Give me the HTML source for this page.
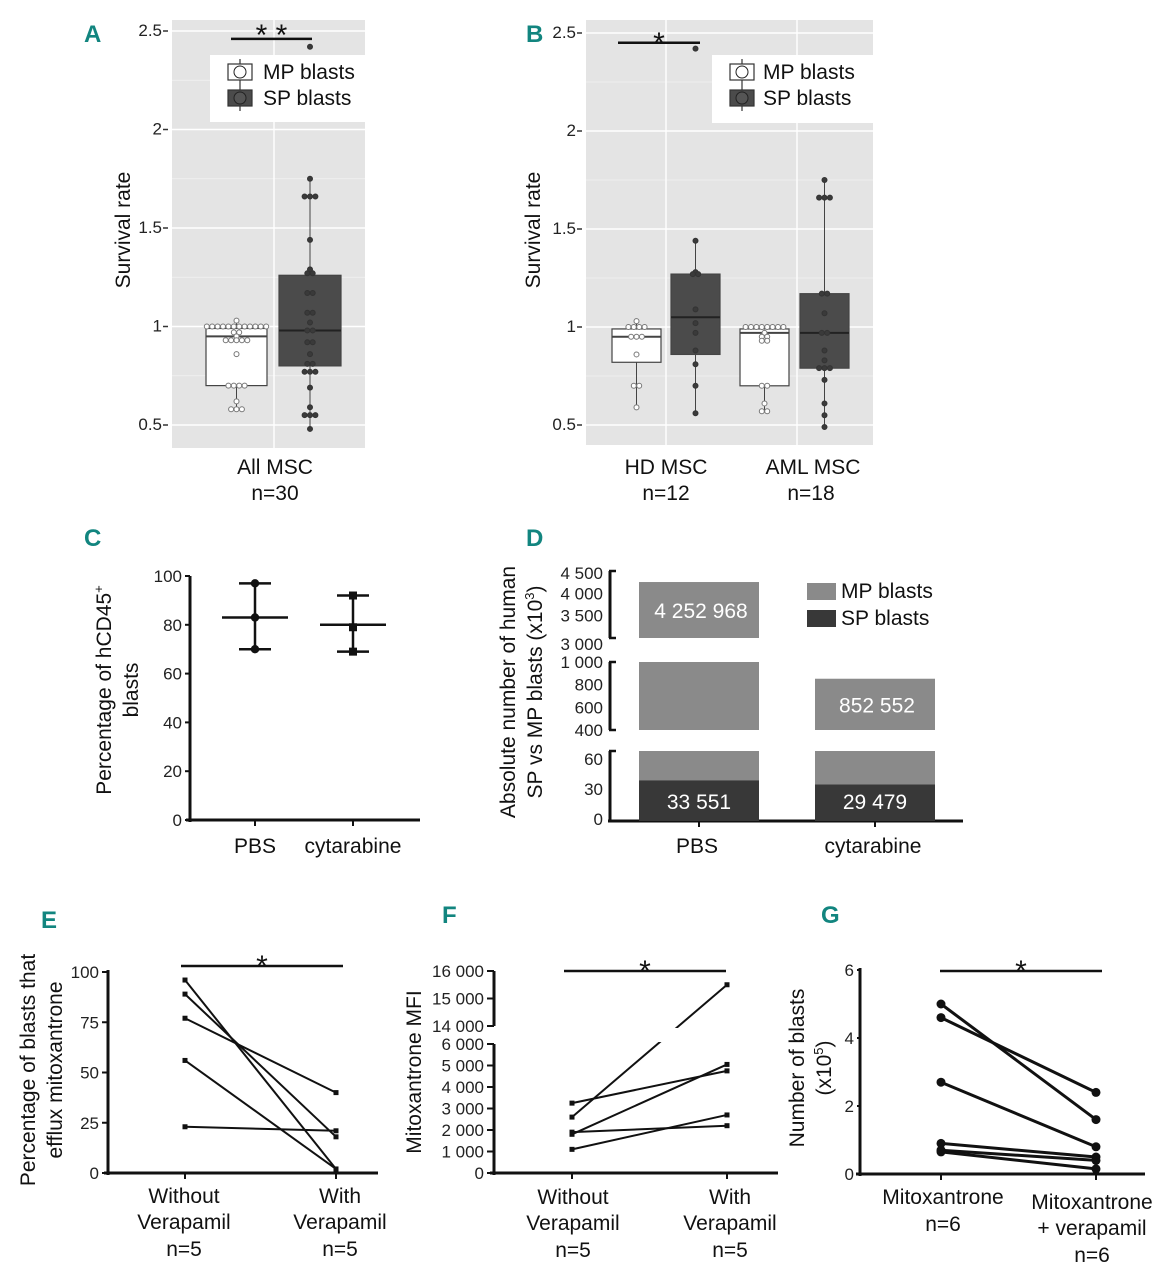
<!DOCTYPE html>
<html><head><meta charset="utf-8"><style>
html,body{margin:0;padding:0;background:#fff;}
svg{display:block;font-family:"Liberation Sans",sans-serif;}
.pl{font-family:"Liberation Sans Narrow","Liberation Sans",sans-serif;font-weight:bold;font-size:24px;fill:#12857f;}
.tk{font-size:17px;fill:#222;}
.lb{font-size:21px;fill:#111;}
</style></head><body>
<svg id="fig" width="1160" height="1280" viewBox="0 0 1160 1280">
<text class="pl" x="84" y="42">A</text>
<text class="pl" x="526" y="42">B</text>
<text class="pl" x="84" y="546">C</text>
<text class="pl" x="526" y="546">D</text>
<text class="pl" x="41" y="928">E</text>
<text class="pl" x="442" y="923">F</text>
<text class="pl" x="821" y="923">G</text>

<text class="lb" transform="translate(130,230) rotate(-90)" text-anchor="middle">Survival rate</text>
<text class="lb" transform="translate(540,230) rotate(-90)" text-anchor="middle">Survival rate</text>
<text class="lb" x="275" y="474" text-anchor="middle">All MSC</text>
<text class="lb" x="275" y="500" text-anchor="middle">n=30</text>
<text class="lb" x="666" y="474" text-anchor="middle">HD MSC</text>
<text class="lb" x="666" y="500" text-anchor="middle">n=12</text>
<text class="lb" x="813" y="474" text-anchor="middle">AML MSC</text>
<text class="lb" x="811" y="500" text-anchor="middle">n=18</text>

<text class="lb" transform="translate(111,690) rotate(-90)" text-anchor="middle">Percentage of hCD45<tspan dy="-8" font-size="13">+</tspan></text>
<text class="lb" transform="translate(138,690) rotate(-90)" text-anchor="middle">blasts</text>
<text class="lb" transform="translate(515,692) rotate(-90)" text-anchor="middle">Absolute number of human</text>
<text class="lb" transform="translate(542,692) rotate(-90)" text-anchor="middle">SP vs MP blasts (x10<tspan dy="-8" font-size="13">3</tspan><tspan dy="8">)</tspan></text>
<text class="lb" transform="translate(35,1070) rotate(-90)" text-anchor="middle">Percentage of blasts that</text>
<text class="lb" transform="translate(62,1070) rotate(-90)" text-anchor="middle">efflux mitoxantrone</text>
<text class="lb" transform="translate(421,1072) rotate(-90)" text-anchor="middle">Mitoxantrone MFI</text>
<text class="lb" transform="translate(804,1068) rotate(-90)" text-anchor="middle">Number of blasts</text>
<text class="lb" transform="translate(831,1068) rotate(-90)" text-anchor="middle">(x10<tspan dy="-8" font-size="13">5</tspan><tspan dy="8">)</tspan></text>

<text class="lb" x="184" y="1203" text-anchor="middle">Without</text>
<text class="lb" x="184" y="1229" text-anchor="middle">Verapamil</text>
<text class="lb" x="184" y="1256" text-anchor="middle">n=5</text>
<text class="lb" x="340" y="1203" text-anchor="middle">With</text>
<text class="lb" x="340" y="1229" text-anchor="middle">Verapamil</text>
<text class="lb" x="340" y="1256" text-anchor="middle">n=5</text>
<text class="lb" x="573" y="1204" text-anchor="middle">Without</text>
<text class="lb" x="573" y="1230" text-anchor="middle">Verapamil</text>
<text class="lb" x="573" y="1257" text-anchor="middle">n=5</text>
<text class="lb" x="730" y="1204" text-anchor="middle">With</text>
<text class="lb" x="730" y="1230" text-anchor="middle">Verapamil</text>
<text class="lb" x="730" y="1257" text-anchor="middle">n=5</text>
<text class="lb" x="943" y="1204" text-anchor="middle">Mitoxantrone</text>
<text class="lb" x="943" y="1231" text-anchor="middle">n=6</text>
<text class="lb" x="1092" y="1209" text-anchor="middle">Mitoxantrone</text>
<text class="lb" x="1092" y="1235" text-anchor="middle">+ verapamil</text>
<text class="lb" x="1092" y="1262" text-anchor="middle">n=6</text>
</svg>
<script>
// ---- data ----
const aMP=[1.03,1.0,1.0,1.0,1.0,1.0,1.0,1.0,1.0,1.0,1.0,1.0,1.0,0.97,0.97,0.95,0.93,0.93,0.93,0.93,0.93,0.86,0.70,0.70,0.70,0.70,0.62,0.58,0.58,0.58];
const aSP=[2.42,1.75,1.66,1.66,1.66,1.44,1.29,1.27,1.27,1.17,1.17,1.07,1.07,1.02,0.98,0.98,0.92,0.92,0.86,0.81,0.81,0.77,0.77,0.77,0.69,0.59,0.55,0.55,0.55,0.48];
const aMPStats=[0.58,0.70,0.95,0.99,1.03];
const aSPStats=[0.48,0.80,0.98,1.26,1.75];
const bHDMP=[1.03,1.0,1.0,1.0,1.0,0.95,0.95,0.95,0.86,0.70,0.70,0.59];
const bHDSP=[2.42,1.44,1.28,1.27,1.27,1.09,1.02,0.97,0.88,0.81,0.70,0.56];
const bAMLMP=[1.0,1.0,1.0,1.0,1.0,1.0,1.0,1.0,0.97,0.95,0.95,0.93,0.93,0.70,0.70,0.61,0.57,0.57];
const bAMLSP=[1.75,1.66,1.66,1.66,1.17,1.17,1.07,0.97,0.97,0.88,0.83,0.79,0.79,0.79,0.73,0.61,0.55,0.49];
const bHDMPStats=[0.59,0.82,0.95,0.99,1.03];
const bHDSPStats=[0.56,0.86,1.05,1.27,1.44];
const bAMLMPStats=[0.57,0.70,0.97,0.99,1.00];
const bAMLSPStats=[0.49,0.79,0.97,1.17,1.75];
const survTicks=[0.5,1,1.5,2,2.5];
const survTickLabels=['0.5','1','1.5','2','2.5'];
const cCats=['PBS','cytarabine'];
const cPBS=[97,83,70];
const cCyt=[92,79,69];
const cMean=[83,80];
const cTicks=[0,20,40,60,80,100];
const dCats=['PBS','cytarabine'];
const dMP=[4252968,852552];
const dSP=[33551,29479];
const dLabels=['4 252 968','852 552'];
const dSPLabels=['33 551','29 479'];
const dTopTicks=[3000,3500,4000,4500];
const dMidTicks=[400,600,800,1000];
const dBotTicks=[0,30,60];
const eWithout=[96,89,77,56,23];
const eWith=[2,18,40,2,21];
const eTicks=[0,25,50,75,100];
const fWithout=[2600,3250,1800,1900,1100];
const fWith=[15500,4750,5050,2200,2700];
const fBotTicks=[0,1000,2000,3000,4000,5000,6000];
const fTopTicks=[14000,15000,16000];
const gWithout=[5.0,4.6,2.7,0.9,0.7,0.65];
const gWith=[1.6,2.4,0.8,0.5,0.4,0.15];
const gTicks=[0,2,4,6];

const svg=document.getElementById('fig');
const NS='http://www.w3.org/2000/svg';
function el(tag,attrs,parent){const e=document.createElementNS(NS,tag);for(const k in attrs)e.setAttribute(k,attrs[k]);(parent||svg).appendChild(e);return e;}
function fmt(n){return String(n).replace(/\B(?=(\d{3})+(?!\d))/g,' ');}

// ---- Panel A & B (ggplot style) ----
function ggPanel(id,x0,x1,top,bot,y,vlines){
  const bg=el('rect',{x:x0,y:top,width:x1-x0,height:bot-top,fill:'#e4e4e4'});
  
  
  for(let v=0.75;v<2.5;v+=0.5){const l=el('line',{x1:x0,x2:x1,y1:y(v),y2:y(v),stroke:'#f2f2f2','stroke-width':0.8});
    
    }
  survTicks.forEach((v,i)=>{
    const l=el('line',{x1:x0,x2:x1,y1:y(v),y2:y(v),stroke:'#fff','stroke-width':1.4});
    
    
    const t=el('text',{x:x0-10,y:y(v)+5,'text-anchor':'end',class:'tk'});t.textContent=survTickLabels[i];
    
    
    const tk=el('line',{x1:x0-9,x2:x0-4,y1:y(v),y2:y(v),stroke:'#333','stroke-width':1.5});
    
    
  });
  vlines.forEach(vx=>{const l=el('line',{x1:vx,x2:vx,y1:top,y2:bot,stroke:'#fff','stroke-width':1.4});
    
    });
}
function drawBox(name,cx,hw,st,pts,y,dark){
  const w=el('line',{x1:cx,x2:cx,y1:y(st[0]),y2:y(st[4]),stroke:'#444','stroke-width':1});
  
  
  const b=el('rect',{x:cx-hw,y:y(st[3]),width:2*hw,height:y(st[1])-y(st[3]),fill:dark?'#4b4b4b':'#fff',stroke:'#444','stroke-width':1.2});
  
  
  const m=el('line',{x1:cx-hw,x2:cx+hw,y1:y(st[2]),y2:y(st[2]),stroke:dark?'#222':'#444','stroke-width':2});
  
  
  const groups={};
  pts.forEach(v=>{const k=v.toFixed(2);groups[k]=(groups[k]||0)+1;});
  Object.keys(groups).forEach(k=>{
    const n=groups[k];
    for(let i=0;i<n;i++){
      const c=el('circle',{cx:cx+(i-(n-1)/2)*5.4,cy:y(+k),r:2.5,fill:dark?'#3a3a3a':'#fff',stroke:dark?'#333':'#777','stroke-width':1});
      
      
    }
  });
}
function legend(id,x0,x1,top,bot,tx){
  const r=el('rect',{x:x0,y:top,width:x1-x0,height:bot-top,fill:'#fff'});
  
  
  [['MP blasts','#fff',top+17],['SP blasts','#4b4b4b',top+43]].forEach(([lab,fill,cy])=>{
    const ic=x0+30;
    const l=el('line',{x1:ic,x2:ic,y1:cy-13,y2:cy+13,stroke:'#333','stroke-width':1.2});
    
    
    const b=el('rect',{x:ic-12,y:cy-8,width:24,height:16,fill:fill,stroke:'#333','stroke-width':1.2});
    
    
    const c=el('circle',{cx:ic,cy:cy,r:6,fill:fill==='#fff'?'#fff':'#555',stroke:'#222','stroke-width':1});
    
    
    const t=el('text',{x:tx,y:cy+7,class:'lb'});t.textContent=lab;
    
    
  });
}
function sig(id,x1,x2,yy,star){
  const l=el('line',{x1:x1,x2:x2,y1:yy,y2:yy,stroke:'#111','stroke-width':2.5});
  
  
  const t=el('text',{x:(x1+x2)/2,y:yy+10,'text-anchor':'middle','font-size':'30',fill:'#111'});t.textContent=star;
  
  
  return t;
}
const yA=v=>425-(v-0.5)*197;
ggPanel('a',172,365,20,448,yA,[274]);
drawBox('a-mp',236.5,30.5,aMPStats,aMP,yA,false);
drawBox('a-sp',310,31,aSPStats,aSP,yA,true);
legend('a',210,365,55,122,263);
const sa=sig('a',231,312,yA(2.46),'* *');
sa.setAttribute('y',yA(2.46)+6);

const yB=v=>425-(v-0.5)*196;
ggPanel('b',586,873,20,445,yB,[666,797]);
drawBox('b-hd-mp',636.5,24.5,bHDMPStats,bHDMP,yB,false);
drawBox('b-hd-sp',695.5,24.5,bHDSPStats,bHDSP,yB,true);
drawBox('b-aml-mp',764.5,24.5,bAMLMPStats,bAMLMP,yB,false);
drawBox('b-aml-sp',824.5,24.5,bAMLSPStats,bAMLSP,yB,true);
legend('b',712,873,55,123,763);
sig('b',618,700,yB(2.45),'*');

// ---- common axis helpers ----
function yAxis(id,x,y1,y2){const l=el('line',{x1:x,x2:x,y1:y1,y2:y2,stroke:'#111','stroke-width':3});
  
  }
function xAxis(id,x1,x2,y){const l=el('line',{x1:x1,x2:x2,y1:y,y2:y,stroke:'#111','stroke-width':3});
  
  }
function yTick(x,yy,label,len){
  const l=el('line',{x1:x-(len||6),x2:x,y1:yy,y2:yy,stroke:'#111','stroke-width':2});
  
  
  const t=el('text',{x:x-(len||6)-3,y:yy+6,'text-anchor':'end',class:'tk'});t.textContent=label;
  
  
}
function xTick(x,yy){const l=el('line',{x1:x,x2:x,y1:yy,y2:yy+6,stroke:'#111','stroke-width':2});
  
  }
function xLabel(x,yy,txt){const t=el('text',{x:x,y:yy,'text-anchor':'middle',class:'lb'});t.textContent=txt;
  
  }

// ---- Panel C ----
const yC=v=>820-v*2.44;
const xC=[255,353];
yAxis('c',190,576,822);xAxis('c',186,420,820);
cTicks.forEach(v=>yTick(190,yC(v),String(v),5));
[cPBS,cCyt].forEach((vals,i)=>{
  const cx=xC[i];xTick(cx,820);xLabel(cx,853,cCats[i]);
  const mx=Math.max(...vals),mn=Math.min(...vals);
  const v=el('line',{x1:cx,x2:cx,y1:yC(mx),y2:yC(mn),stroke:'#111','stroke-width':2.5});
  
  
  [mx,mn].forEach(cv=>{const c=el('line',{x1:cx-16,x2:cx+16,y1:yC(cv),y2:yC(cv),stroke:'#111','stroke-width':2.5});
    
    });
  const m=el('line',{x1:cx-33,x2:cx+33,y1:yC(cMean[i]),y2:yC(cMean[i]),stroke:'#111','stroke-width':2.5});
  
  
  vals.forEach(pv=>{
    const p=i===0?el('circle',{cx:cx,cy:yC(pv),r:4.2,fill:'#111'}):el('rect',{x:cx-4,y:yC(pv)-4,width:8,height:8,fill:'#111'});
    
    
  });
});

// ---- Panel D ----
const yDtop=v=>638-(v/1000-3000)*0.04467;
const yDmid=v=>730-(v/1000-400)*0.1133;
const yDbot=v=>821-v*1.0;
const xD=[639,815],wD=120;
function segAxis(x,y1,y2){
  const l=el('line',{x1:x,x2:x,y1:y1,y2:y2,stroke:'#111','stroke-width':3});
  
  
  [y1,y2].forEach(yy=>{const t=el('line',{x1:x-1,x2:x+6,y1:yy,y2:yy,stroke:'#111','stroke-width':2.5});
    
    });
}
segAxis(610,571,638);segAxis(610,662,730);
const dbl=el('line',{x1:610,x2:610,y1:751,y2:822,stroke:'#111','stroke-width':3});


const dbt=el('line',{x1:609,x2:616,y1:751,y2:751,stroke:'#111','stroke-width':2.5});


xAxis('d',608,963,821);
function dTick(yy,lab){const t=el('text',{x:603,y:yy+6,'text-anchor':'end',class:'tk'});t.textContent=lab;
  
  }
dTopTicks.forEach(v=>dTick(yDtop(v*1000)+(v===3000?6:0)+(v===4500?2:0),fmt(v)));
dMidTicks.forEach(v=>dTick(yDmid(v*1000),fmt(v)));
dBotTicks.forEach(v=>dTick(yDbot(v)-2,String(v)));
dCats.forEach((c,i)=>{
  const x=xD[i];xTick(x+60,821);xLabel(x+58,853,c);
  const mp=dMP[i]/1000;
  if(mp>3000){
    const r=el('rect',{x:x,y:yDtop(dMP[i]),width:wD,height:638-yDtop(dMP[i]),fill:'#8a8a8a'});
    
    
  }
  if(mp>400){
    const top=Math.max(yDmid(dMP[i]),662);
    const r=el('rect',{x:x,y:top,width:wD,height:730-top,fill:'#8a8a8a'});
    
    
  }
  const rb=el('rect',{x:x,y:751,width:wD,height:70,fill:'#8a8a8a'});
  
  
  const sp=el('rect',{x:x,y:yDbot(dSP[i]/1000)-7,width:wD,height:821-yDbot(dSP[i]/1000)+7,fill:'#383838'});
  
  
  const t=el('text',{x:x+60,y:809,'text-anchor':'middle',class:'lb'});t.textContent=dSPLabels[i];t.setAttribute('style','fill:#fff');
  
  
  const vy=mp>3000?(yDtop(dMP[i])+638)/2+8:(yDmid(dMP[i])+730)/2+8;
  const t2=el('text',{x:x+62,y:vy,'text-anchor':'middle',class:'lb'});t2.textContent=dLabels[i];t2.setAttribute('style','fill:#fff');
  
  
});
[['MP blasts','#8a8a8a',583],['SP blasts','#383838',610]].forEach(([lab,col,yy])=>{
  const r=el('rect',{x:807,y:yy,width:29,height:17,fill:col});
  
  
  const t=el('text',{x:841,y:yy+15,class:'lb'});t.textContent=lab;
  
  
});

// ---- paired line plots ----
function paired(id,x1,x2,a,b,y,marker){
  a.forEach((v,i)=>{
    const l=el('line',{x1:x1,y1:y(v),x2:x2,y2:y(b[i]),stroke:'#111','stroke-width':marker==='circle'?3:2});
    
    
    [[x1,v],[x2,b[i]]].forEach(([px,pv])=>{
      const m=marker==='circle'?el('circle',{cx:px,cy:y(pv),r:4.5,fill:'#111'}):el('rect',{x:px-2.5,y:y(pv)-2.5,width:5,height:5,fill:'#111'});
      
      
    });
  });
}
// E
const yE=v=>1173-v*2.01;
yAxis('e',108,970,1175);xAxis('e',104,378,1173);
eTicks.forEach(v=>yTick(108,yE(v),String(v),6));
xTick(185,1173);xTick(336,1173);
paired('e',185,336,eWithout,eWith,yE,'square');
sig('e',181,343,966,'*');

// F
const yF=v=>v>=14000?1026-(v-14000)*0.0275:1173-v*0.0215;
yAxis('f',494,1044,1175);
const ft=el('line',{x1:494,x2:494,y1:971,y2:1026,stroke:'#111','stroke-width':3});


xAxis('f',490,778,1173);
fBotTicks.forEach(v=>yTick(494,yF(v),fmt(v),7));
fTopTicks.forEach(v=>yTick(494,yF(v),fmt(v),7));
xTick(572,1173);xTick(727,1173);
paired('f',572,727,fWithout,fWith,yF,'square');
const gap=el('rect',{x:500,y:1028,width:270,height:14,fill:'#fff'});


sig('f',564,726,971,'*');

// G
const yG=v=>1174-v*34;
yAxis('g',860,968,1176);xAxis('g',856,1145,1174);
gTicks.forEach(v=>yTick(860,yG(v),String(v),3));
xTick(941,1174);xTick(1096,1174);
paired('g',941,1096,gWithout,gWith,yG,'circle');
sig('g',940,1102,971,'*');
</script>
</body></html>
